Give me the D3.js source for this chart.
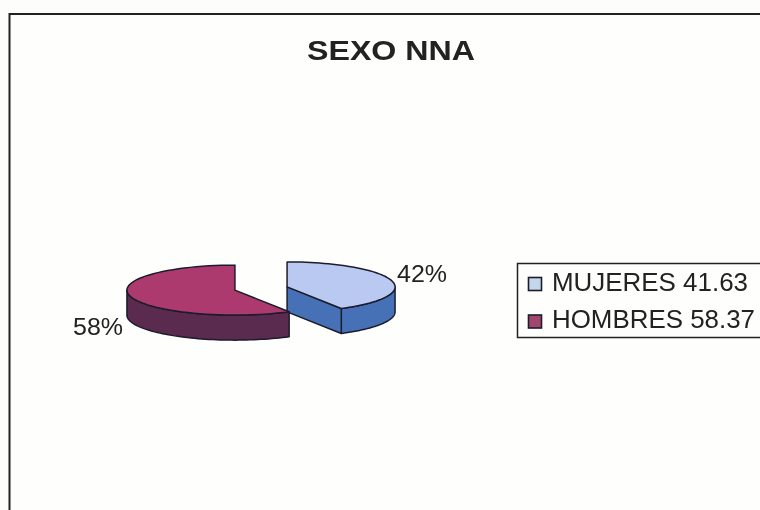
<!DOCTYPE html>
<html lang="es">
<head>
<meta charset="UTF-8">
<title>SEXO NNA</title>
<script src="https://d3js.org/d3.v7.min.js"></script>
<style>
    html, body { margin: 0; padding: 0; background: #fdfdfb; overflow: hidden; }
    svg { display: block; filter: blur(0.6px); }
    text { font-family: "Liberation Sans", Arial, sans-serif; fill: #222; }
</style>
</head>
<body>
<script>
const titleText = "SEXO NNA";
const categories = ["MUJERES", "HOMBRES"];
const values = [41.63, 58.37];
const topColors = ["#b9c9f2", "#ad3a6f"];
const sideColors = ["#4771b6", "#5b2a4f"];
const swatchColors = ["#c3d6ea", "#a3466f"];

const width = 760, height = 510;
const cx = 261, cy = 288.5;      // centre of the un-exploded pie
const rx = 108, ry = 25;         // ellipse of the pie top
const depth = 25, explode = 27;
const outline = "#1c1c2c";

const svg = d3.select("body").append("svg")
    .attr("width", width)
    .attr("height", height);

// chart frame, runs off the right and bottom of the photo
svg.append("rect")
    .attr("x", 9.5).attr("y", 14)
    .attr("width", 790).attr("height", 540)
    .attr("fill", "#fefefc")
    .attr("stroke", "#222")
    .attr("stroke-width", 2);

// the scan is stretched sideways, so text is fitted to its measured width
svg.append("text")
    .attr("x", 307).attr("y", 60)
    .attr("font-size", 27)
    .attr("font-weight", "bold")
    .attr("textLength", 168)
    .attr("lengthAdjust", "spacingAndGlyphs")
    .text(titleText);

const total = d3.sum(values);
const slices = d3.pie().sort(null)(values);
const pct = d3.format(".0%");

// project a pie angle (0 = up, clockwise) on to the tilted ellipse
const project = (a, c, dy = 0) => [c.x + rx * Math.sin(a), c.y - ry * Math.cos(a) + dy];
const arcPoints = (a0, a1, c, dy = 0) => {
    const n = 60;
    return d3.range(n + 1).map(i => project(a0 + (a1 - a0) * i / n, c, dy));
};
const line = d3.line();

const pieG = svg.append("g")
    .attr("stroke", outline)
    .attr("stroke-width", 1.5)
    .attr("stroke-linejoin", "round");

slices.forEach((s, i) => {
    const mid = (s.startAngle + s.endAngle) / 2;
    const c = {
        x: cx + explode * Math.sin(mid),
        y: cy - explode * (ry / rx) * Math.cos(mid)
    };
    // visible part of the outer wall: from the first slice angle to the lowest/left edge
    const wallStart = Math.max(s.startAngle, Math.PI / 2);
    const wallEnd = Math.min(s.endAngle, Math.PI * 1.5);
    const outer = arcPoints(wallStart, wallEnd, c);
    const lower = arcPoints(wallStart, wallEnd, c, depth).reverse();
    pieG.append("path")
        .attr("d", line(outer.concat(lower)) + "Z")
        .attr("fill", sideColors[i]);

    // cut face of the slice that looks at the viewer
    if (s.endAngle <= Math.PI) {
        const e = project(s.endAngle, c);
        pieG.append("path")
            .attr("d", line([[c.x, c.y], e, [e[0], e[1] + depth], [c.x, c.y + depth]]) + "Z")
            .attr("fill", sideColors[i]);
    }

    pieG.append("path")
        .attr("d", line([[c.x, c.y]].concat(arcPoints(s.startAngle, s.endAngle, c))) + "Z")
        .attr("fill", topColors[i]);
});

// percent labels
const labelPos = [[397, 282], [73, 335]];
slices.forEach((s, i) => {
    svg.append("text")
        .attr("x", labelPos[i][0]).attr("y", labelPos[i][1])
        .attr("font-size", 24)
        .attr("textLength", 50)
        .attr("lengthAdjust", "spacingAndGlyphs")
        .text(pct(s.data / total));
});

// legend
svg.append("rect")
    .attr("x", 517.5).attr("y", 263.5)
    .attr("width", 260).attr("height", 74)
    .attr("fill", "#fefefc")
    .attr("stroke", "#222")
    .attr("stroke-width", 1.5);

const legendY = d3.scalePoint().domain(categories).range([284, 321.5]);
const legendWidths = [196, 203];
categories.forEach((name, i) => {
    const y = legendY(name);
    svg.append("rect")
        .attr("x", 528.5).attr("y", y - 6.5)
        .attr("width", 13).attr("height", 13)
        .attr("fill", swatchColors[i])
        .attr("stroke", "#1c1c2c")
        .attr("stroke-width", 1.6);
    svg.append("text")
        .attr("x", 552).attr("y", y + 6.5)
        .attr("font-size", 25)
        .attr("textLength", legendWidths[i])
        .attr("lengthAdjust", "spacingAndGlyphs")
        .text(name + " " + values[i]);
});
</script>
</body>
</html>
